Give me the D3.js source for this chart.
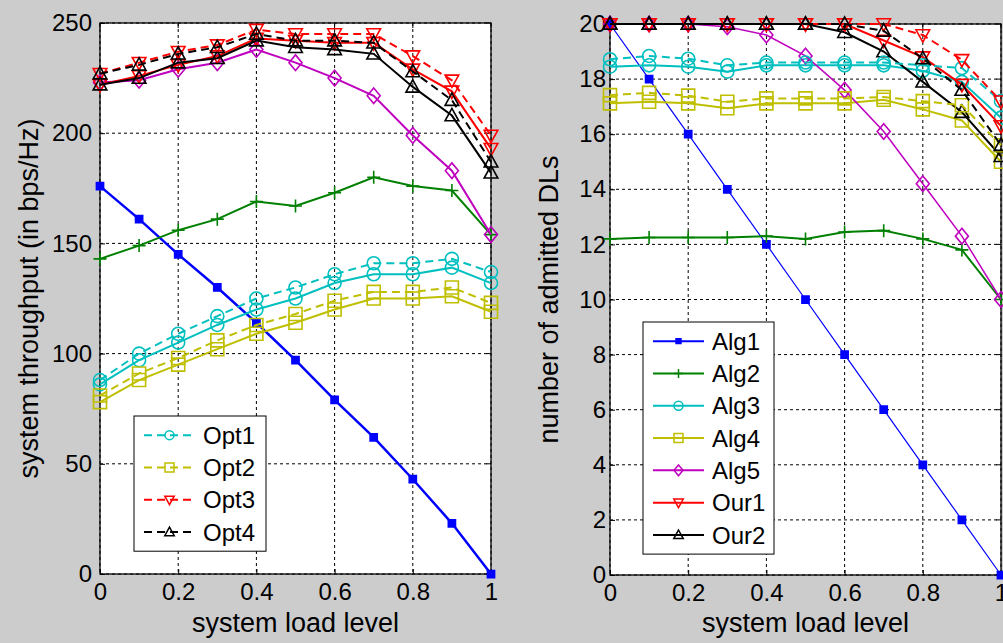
<!DOCTYPE html>
<html>
<head>
<meta charset="utf-8">
<script src="https://cdn.jsdelivr.net/npm/d3@7"></script>
<style>
  body { margin: 0; background: #cccccc; }
  text { font-family: "Liberation Sans", Arial, sans-serif; fill: #000; }
</style>
</head>
<body>
<div id="chart"></div>
<script>
// x values shared by both panels
const loadLevels = [0, 0.1, 0.2, 0.3, 0.4, 0.5, 0.6, 0.7, 0.8, 0.9, 1];
const xTicks = [0, 0.2, 0.4, 0.6, 0.8, 1];

// left panel: system throughput (bps/Hz)
const tpAlg1 = [176, 161, 145, 130, 114, 97, 79, 62, 43, 23, 0];
const tpAlg2 = [143, 149, 156, 161, 169, 167, 173, 180, 176, 174, 154];
const tpAlg3 = [86, 97, 105, 113, 120, 125, 132, 136, 136, 139, 132];
const tpAlg4 = [78, 88, 95, 102, 109, 114, 120, 125, 125, 126, 119];
const tpAlg5 = [223, 224, 229, 232, 238, 232, 225, 217, 199, 183, 154];
const tpOur1 = [222, 226, 231, 235, 243, 242, 241, 241, 229, 219, 193];
const tpOur2 = [222, 225, 232, 234, 242, 239, 238, 236, 221, 208, 182];
const tpOpt1 = [88, 100, 109, 117, 125, 130, 136, 141, 141, 143, 137];
const tpOpt2 = [81, 91, 98, 106, 113, 118, 124, 128, 128, 130, 123];
const tpOpt3 = [227, 232, 237, 240, 247, 245, 245, 245, 235, 224, 199];
const tpOpt4 = [227, 231, 236, 239, 245, 242, 242, 241, 228, 215, 187];
const tpTicks = [0, 50, 100, 150, 200, 250];

// right panel: number of admitted DLs
const dlAlg1 = [20, 18, 16, 14, 12, 10, 8, 6, 4, 2, 0];
const dlAlg2 = [12.2, 12.25, 12.25, 12.25, 12.3, 12.2, 12.45, 12.5, 12.2, 11.8, 10];
const dlAlg3 = [18.45, 18.5, 18.45, 18.27, 18.5, 18.5, 18.5, 18.5, 18.3, 17.9, 16.6];
const dlAlg4 = [17.12, 17.18, 17.12, 16.94, 17.12, 17.12, 17.12, 17.25, 16.9, 16.5, 15.0];
const dlAlg5 = [20, 20, 20, 19.9, 19.6, 18.84, 17.6, 16.1, 14.2, 12.3, 10];
const dlOur1 = [20, 20, 20, 20, 20, 20, 20, 19.4, 18.8, 17.8, 16.3];
const dlOur2 = [20, 20, 20, 20, 20, 20, 19.7, 19.0, 17.9, 16.8, 15.2];
const dlOpt1 = [18.72, 18.84, 18.74, 18.5, 18.6, 18.6, 18.6, 18.6, 18.5, 18.4, 17.2];
const dlOpt2 = [17.42, 17.5, 17.4, 17.18, 17.3, 17.3, 17.3, 17.35, 17.2, 17.05, 15.6];
const dlOpt3 = [20, 20, 20, 20, 20, 20, 20, 20, 19.6, 18.7, 17.2];
const dlOpt4 = [20, 20, 20, 20, 20, 20, 20, 19.75, 18.75, 17.6, 15.6];
const dlTicks = [0, 2, 4, 6, 8, 10, 12, 14, 16, 18, 20];

const seriesOrder = ["Alg1", "Alg2", "Alg3", "Alg4", "Alg5", "Our1", "Our2", "Opt1", "Opt2", "Opt3", "Opt4"];
const leftLegend = ["Opt1", "Opt2", "Opt3", "Opt4"];
const rightLegend = ["Alg1", "Alg2", "Alg3", "Alg4", "Alg5", "Our1", "Our2"];

const tpData = {Alg1: tpAlg1, Alg2: tpAlg2, Alg3: tpAlg3, Alg4: tpAlg4, Alg5: tpAlg5,
    Our1: tpOur1, Our2: tpOur2, Opt1: tpOpt1, Opt2: tpOpt2, Opt3: tpOpt3, Opt4: tpOpt4};
const dlData = {Alg1: dlAlg1, Alg2: dlAlg2, Alg3: dlAlg3, Alg4: dlAlg4, Alg5: dlAlg5,
    Our1: dlOur1, Our2: dlOur2, Opt1: dlOpt1, Opt2: dlOpt2, Opt3: dlOpt3, Opt4: dlOpt4};

// MATLAB-ish line styles
const styles = {
    Alg1: {color: "#0000ff", marker: "*"},
    Alg2: {color: "#008000", marker: "+"},
    Alg3: {color: "#00bfbf", marker: "o"},
    Alg4: {color: "#bfbf00", marker: "s"},
    Alg5: {color: "#bf00bf", marker: "d"},
    Our1: {color: "#ff0000", marker: "v"},
    Our2: {color: "#000000", marker: "^"},
    Opt1: {color: "#00bfbf", marker: "o", dash: "8,5"},
    Opt2: {color: "#bfbf00", marker: "s", dash: "8,5"},
    Opt3: {color: "#ff0000", marker: "v", dash: "8,5"},
    Opt4: {color: "#000000", marker: "^", dash: "8,5"}
};

const W = 1003, H = 643;
const svg = d3.select("#chart").append("svg")
    .attr("width", W)
    .attr("height", H);

svg.append("rect")
    .attr("width", W)
    .attr("height", H)
    .attr("fill", "#cccccc");

function circlePath(r) {
    return `M${r},0A${r},${r} 0 1,1 ${-r},0A${r},${r} 0 1,1 ${r},0Z`;
}

// marker path, s = half size
function markerPath(type, s) {
    switch (type) {
        case "o":
            return circlePath(s);
        case "s":
            return `M${-s},${-s}H${s}V${s}H${-s}Z`;
        case "d":
            return `M0,${-s * 1.2}L${s},0L0,${s * 1.2}L${-s},0Z`;
        case "^":
            return `M0,${-s * 1.1}L${s * 1.05},${s * 0.8}L${-s * 1.05},${s * 0.8}Z`;
        case "v":
            return `M0,${s * 1.1}L${s * 1.05},${-s * 0.8}L${-s * 1.05},${-s * 0.8}Z`;
        case "+":
            return `M${-s},0H${s}M0,${-s}V${s}`;
        case "*":
            return `M${-s * 0.55},${-s * 0.55}H${s * 0.55}V${s * 0.55}H${-s * 0.55}Z`;
    }
}

function drawMarker(g, type, color, s, cx, cy, sw) {
    g.append("path")
        .attr("transform", `translate(${cx},${cy})`)
        .attr("d", markerPath(type, s))
        .attr("fill", type === "*" ? color : "none")
        .attr("stroke", color)
        .attr("stroke-width", sw);
}

function drawPanel(cfg) {
    const x = d3.scaleLinear().domain([0, 1]).range([cfg.left, cfg.right]);
    const y = d3.scaleLinear().domain(cfg.yDomain).range([cfg.bottom, cfg.top]);
    const g = svg.append("g");

    // plot area
    g.append("rect")
        .attr("x", cfg.left).attr("y", cfg.top)
        .attr("width", cfg.right - cfg.left)
        .attr("height", cfg.bottom - cfg.top)
        .attr("fill", "#ffffff");

    // dotted grid
    g.selectAll(".vgrid").data(xTicks).enter().append("line")
        .attr("x1", d => x(d)).attr("x2", d => x(d))
        .attr("y1", cfg.top).attr("y2", cfg.bottom)
        .attr("stroke", "#000").attr("stroke-width", 1)
        .attr("stroke-dasharray", "3,3");
    g.selectAll(".hgrid").data(cfg.yTicks).enter().append("line")
        .attr("x1", cfg.left).attr("x2", cfg.right)
        .attr("y1", d => y(d)).attr("y2", d => y(d))
        .attr("stroke", "#000").attr("stroke-width", 1)
        .attr("stroke-dasharray", "3,3");

    // axes via d3.axis, ticks pointing inward
    const xAxis = g.append("g")
        .attr("transform", `translate(0,${cfg.bottom})`)
        .call(d3.axisBottom(x).tickValues(xTicks).tickSizeInner(-5).tickSizeOuter(0)
            .tickPadding(9).tickFormat(d3.format("~g")));
    const yAxis = g.append("g")
        .attr("transform", `translate(${cfg.left},0)`)
        .call(d3.axisLeft(y).tickValues(cfg.yTicks).tickSizeInner(-5).tickSizeOuter(0)
            .tickPadding(cfg.yPad).tickFormat(d3.format("~g")));
    [xAxis, yAxis].forEach(a => {
        a.selectAll("text").style("font-size", "24px")
            .style("font-family", "'Liberation Sans', Arial, sans-serif");
        a.select(".domain").remove();
        a.selectAll("line").attr("stroke", "#000");
    });
    xAxis.selectAll("text").attr("dy", "0.71em");

    // top / right ticks
    g.selectAll(".tt").data(xTicks).enter().append("line")
        .attr("x1", d => x(d)).attr("x2", d => x(d))
        .attr("y1", cfg.top).attr("y2", cfg.top + 5)
        .attr("stroke", "#000");
    g.selectAll(".rt").data(cfg.yTicks).enter().append("line")
        .attr("x1", cfg.right).attr("x2", cfg.right - 5)
        .attr("y1", d => y(d)).attr("y2", d => y(d))
        .attr("stroke", "#000");

    // frame
    g.append("rect")
        .attr("x", cfg.left).attr("y", cfg.top)
        .attr("width", cfg.right - cfg.left)
        .attr("height", cfg.bottom - cfg.top)
        .attr("fill", "none")
        .attr("stroke", "#000").attr("stroke-width", 1.3);

    // series
    const line = d3.line().x((d, i) => x(loadLevels[i])).y(d => y(d));
    seriesOrder.forEach(name => {
        const st = styles[name];
        const vals = cfg.data[name];
        const sw = cfg.widths[name] || 2;
        g.append("path")
            .datum(vals)
            .attr("d", line)
            .attr("fill", "none")
            .attr("stroke", st.color)
            .attr("stroke-width", sw)
            .attr("stroke-dasharray", st.dash || null);
        vals.forEach((v, i) => {
            drawMarker(g, st.marker, st.color, 6.5, x(loadLevels[i]), y(v), 1.6);
        });
    });

    // legend
    const lg = cfg.legend;
    const lgBox = g.append("g");
    lgBox.append("rect")
        .attr("x", lg.x).attr("y", lg.y)
        .attr("width", lg.w).attr("height", lg.rowH * lg.names.length + lg.pad * 2)
        .attr("fill", "#fff").attr("stroke", "#000").attr("stroke-width", 1);
    lg.names.forEach((name, i) => {
        const st = styles[name];
        const cy = lg.y + lg.pad + lg.rowH * (i + 0.5);
        lgBox.append("line")
            .attr("x1", lg.x + 10).attr("x2", lg.x + 61)
            .attr("y1", cy).attr("y2", cy)
            .attr("stroke", st.color).attr("stroke-width", 2)
            .attr("stroke-dasharray", st.dash || null);
        drawMarker(lgBox, st.marker, st.color, 4.5, lg.x + 35.5, cy, 1.5);
        lgBox.append("text")
            .attr("x", lg.x + 69).attr("y", cy)
            .attr("dy", "0.36em")
            .style("font-size", "24px")
            .text(name);
    });

    // labels
    g.append("text")
        .attr("x", (cfg.left + cfg.right) / 2)
        .attr("y", 632)
        .attr("text-anchor", "middle")
        .style("font-size", "27px")
        .text("system load level");
    g.append("text")
        .attr("transform", `translate(${cfg.ylabelX},${(cfg.top + cfg.bottom) / 2}) rotate(-90)`)
        .attr("text-anchor", "middle")
        .style("font-size", "27px")
        .text(cfg.ylabel);
}

drawPanel({
    left: 100, right: 491, top: 23, bottom: 574,
    yDomain: [0, 250], yTicks: tpTicks, data: tpData,
    widths: {Alg1: 2.5}, yPad: 8,
    ylabel: "system throughput (in bps/Hz)", ylabelX: 38,
    legend: {x: 134, y: 416, w: 132, rowH: 32.3, pad: 3, names: leftLegend}
});

drawPanel({
    left: 610, right: 1001, top: 24, bottom: 575,
    yDomain: [0, 20], yTicks: dlTicks, data: dlData,
    widths: {Alg1: 1.2, Alg5: 1.5}, yPad: 4,
    ylabel: "number of admitted DLs", ylabelX: 558,
    legend: {x: 643, y: 322, w: 131, rowH: 32.3, pad: 3, names: rightLegend}
});
</script>
</body>
</html>
